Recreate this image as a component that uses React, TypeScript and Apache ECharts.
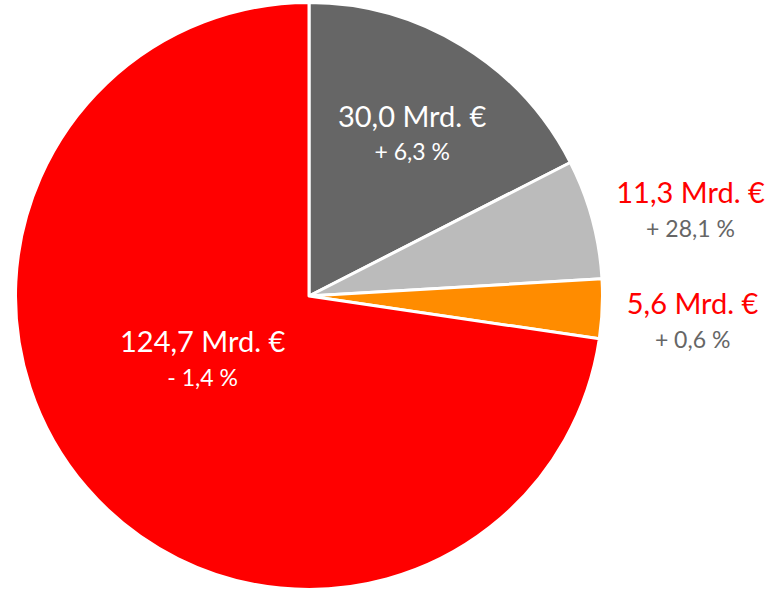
import React, { useEffect, useRef } from "react";
import * as echarts from "echarts";

const segments = ["Segment A", "Segment B", "Segment C", "Segment D"];
const values = [30.0, 11.3, 5.6, 124.7];
const changes = ["+ 6,3 %", "+ 28,1 %", "+ 0,6 %", "- 1,4 %"];
const colors = ["#666666", "#BBBBBB", "#FF8C00", "#FF0000"];
const insideLabel = [true, false, false, true];
const labelOffsets: [number, number][] = [
  [25, -35],
  [237, -47],
  [234, 18],
  [7, -35],
];

const fmt = (v: number) => v.toFixed(1).replace(".", ",") + " Mrd. €";

export default function App() {
  const ref = useRef<HTMLDivElement>(null);
  useEffect(() => {
    if (!ref.current) return;
    const chart = echarts.init(ref.current, undefined, { renderer: "svg" });
    const font = "Lato, 'Noto Sans', sans-serif";
    chart.setOption({
      animation: false,
      backgroundColor: "#ffffff",
      series: [
        {
          type: "pie",
          center: [309, 296],
          radius: 293.5,
          startAngle: 90,
          clockwise: true,
          avoidLabelOverlap: false,
          labelLine: { show: false },
          itemStyle: { borderColor: "#ffffff", borderWidth: 3 },
          data: values.map((v, i) => ({
            name: segments[i],
            value: v,
            itemStyle: { color: colors[i] },
            label: {
              show: true,
              position: "inside",
              offset: labelOffsets[i],
              formatter: `{a|${fmt(v)}}\n{b|${changes[i]}}`,
              rich: {
                a: {
                  fontFamily: font,
                  fontSize: 29,
                  lineHeight: 36,
                  color: insideLabel[i] ? "#ffffff" : "#FF0000",
                  align: "center",
                },
                b: {
                  fontFamily: font,
                  fontSize: 23,
                  lineHeight: 36,
                  color: insideLabel[i] ? "#ffffff" : "#666666",
                  align: "center",
                },
              },
            },
          })),
        },
      ],
    });
    return () => chart.dispose();
  }, []);
  return (
    <div
      ref={ref}
      style={{ position: "fixed", left: 0, top: 0, width: 770, height: 589 }}
    />
  );
}
